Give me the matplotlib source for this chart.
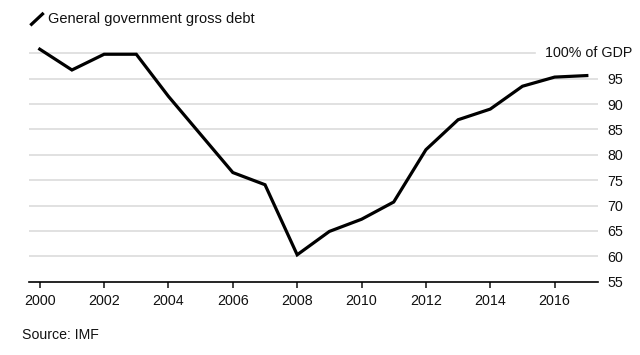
import numpy as np
import matplotlib
matplotlib.use("Agg")
import matplotlib.pyplot as plt
from matplotlib.lines import Line2D
from matplotlib.transforms import blended_transform_factory

plt.rcParams['font.family'] = ['Liberation Sans', 'DejaVu Sans']

years = list(range(2000, 2018))
debt = [100.8, 96.7, 99.8, 99.8, 91.5, 84.0, 76.5, 74.1, 60.3, 64.9,
        67.3, 70.7, 81.0, 86.9, 89.0, 93.5, 95.3, 95.6]
xticks = list(range(2000, 2017, 2))
yticks = [55, 60, 65, 70, 75, 80, 85, 90, 95, 100]

fig = plt.figure(figsize=(6.4, 3.55), dpi=100)
ax = fig.add_axes([0.045, 0.2065, 0.889, 0.665])

ax.set_xlim(1999.66, 2017.34)
ax.set_ylim(55, 101.5)

# gridlines (the 100 line stops short to leave room for its label)
for v in yticks[1:]:
    xmax = 0.89 if v == 100 else 1.0
    ax.axhline(v, xmin=0, xmax=xmax, color='#dcdcdc', lw=1.2, zorder=1)

ax.plot(years, debt, color='black', lw=2.3, solid_joinstyle='miter', zorder=3)

for s in ['top', 'left', 'right']:
    ax.spines[s].set_visible(False)
ax.spines['bottom'].set_linewidth(1.2)
ax.spines['bottom'].set_color('black')

ax.set_xticks(xticks)
ax.set_xticklabels([str(x) for x in xticks], fontsize=10.3, color='#111111')
ax.tick_params(axis='x', length=4, width=1.2, pad=5, color='#222222')

ax.yaxis.tick_right()
ax.set_yticks(yticks)
ax.set_yticklabels([str(v) for v in yticks[:-1]] + [''], fontsize=10.3, color='#111111')
ax.tick_params(axis='y', length=0, pad=7)
for lbl in ax.get_yticklabels():
    lbl.set_horizontalalignment('left')

ax.text(545 / 640, 100, '100% of GDP',
        transform=blended_transform_factory(fig.transFigure, ax.transData),
        fontsize=10.3, va='center', ha='left', color='#111111')

# legend-style title
fig.add_artist(Line2D([31.5 / 640, 42.5 / 640], [1 - 24.3 / 355, 1 - 14 / 355],
                      color='black', lw=2.3, transform=fig.transFigure))
fig.text(48.5 / 640, 1 - 19 / 355, 'General government gross debt',
         fontsize=10.5, va='center', ha='left', color='#111111')

fig.text(21.5 / 640, 1 - 335 / 355, 'Source: IMF', fontsize=10.2,
         va='center', ha='left', color='#111111')

fig.savefig('out.png', dpi=100, facecolor='white')
